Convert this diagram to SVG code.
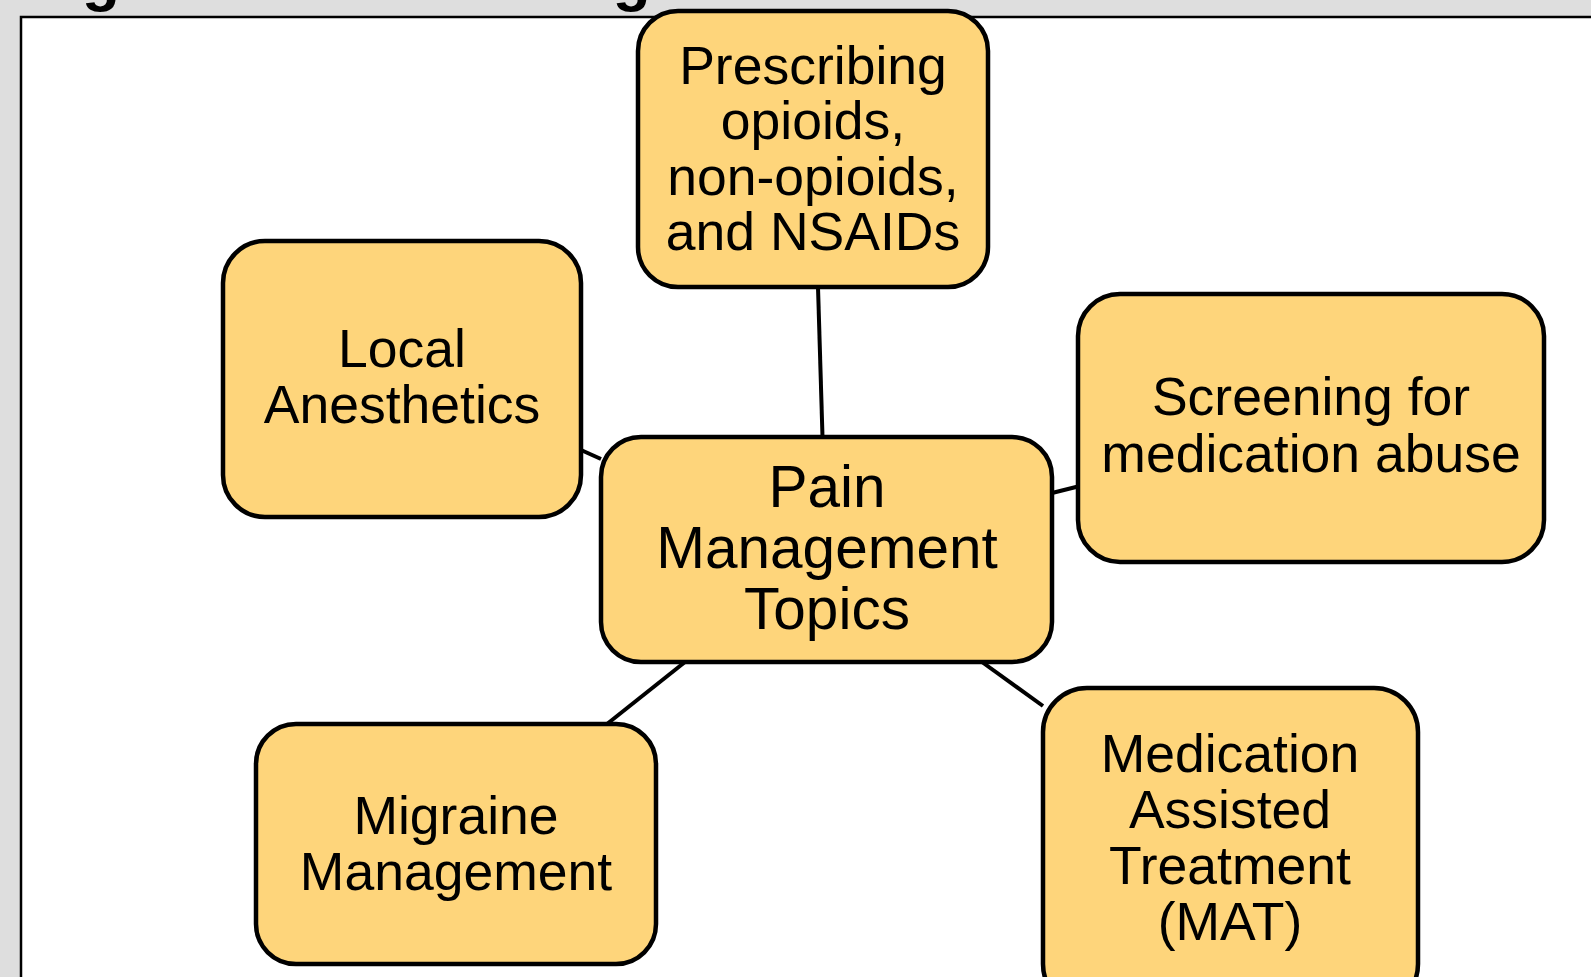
<svg xmlns="http://www.w3.org/2000/svg" width="1591" height="977" viewBox="0 0 1591 977">
  <style>
    .box { fill: #FED57B; stroke: #000000; stroke-width: 4.5; }
    .lbl { font-family: "Liberation Sans", Arial, sans-serif; font-size: 53.5px; fill: #000000; text-anchor: middle; }
    .big { font-size: 58.5px; }
    .edge { stroke: #000000; stroke-width: 4; fill: none; }
    .title { font-family: "Liberation Sans", Arial, sans-serif; font-size: 62px; font-weight: bold; fill: #000000; }
  </style>
  <rect x="0" y="0" width="1591" height="977" fill="#DEDEDE"/>
  <text class="title" x="27" y="-1">Figure 1: Pain Management Course Content</text>
  <rect x="21" y="17" width="1600" height="1000" fill="#FFFFFF" stroke="#000000" stroke-width="2.5"/>

  <g id="connectors">
    <line class="edge" x1="818" y1="287" x2="822.5" y2="437"/>
    <line class="edge" x1="581" y1="450" x2="601" y2="459"/>
    <line class="edge" x1="1052" y1="493" x2="1078" y2="486.5"/>
    <line class="edge" x1="685" y1="662" x2="607" y2="724"/>
    <line class="edge" x1="982" y1="662" x2="1043" y2="706"/>
  </g>

  <g id="node-prescribing">
    <rect class="box" x="638" y="11" width="350" height="276" rx="40" ry="40"/>
    <text class="lbl" x="813" y="84">Prescribing</text>
    <text class="lbl" x="813" y="139">opioids,</text>
    <text class="lbl" x="813" y="195">non-opioids,</text>
    <text class="lbl" x="813" y="250">and NSAIDs</text>
  </g>

  <g id="node-local">
    <rect class="box" x="223" y="241" width="358" height="276" rx="42" ry="42"/>
    <text class="lbl" x="402" y="367">Local</text>
    <text class="lbl" x="402" y="423">Anesthetics</text>
  </g>

  <g id="node-screening">
    <rect class="box" x="1078" y="294" width="466" height="268" rx="42" ry="42"/>
    <text class="lbl" x="1311" y="415">Screening for</text>
    <text class="lbl" x="1311" y="472">medication abuse</text>
  </g>

  <g id="node-pain">
    <rect class="box" x="601" y="437" width="451" height="225" rx="40" ry="40"/>
    <text class="lbl big" x="827" y="507">Pain</text>
    <text class="lbl big" x="827" y="568">Management</text>
    <text class="lbl big" x="827" y="629">Topics</text>
  </g>

  <g id="node-migraine">
    <rect class="box" x="256" y="724" width="400" height="240" rx="40" ry="40"/>
    <text class="lbl" x="456" y="834">Migraine</text>
    <text class="lbl" x="456" y="890">Management</text>
  </g>

  <g id="node-mat">
    <rect class="box" x="1043" y="688" width="375" height="320" rx="44" ry="44"/>
    <text class="lbl" x="1230" y="772">Medication</text>
    <text class="lbl" x="1230" y="828">Assisted</text>
    <text class="lbl" x="1230" y="884">Treatment</text>
    <text class="lbl" x="1230" y="940">(MAT)</text>
  </g>
</svg>
